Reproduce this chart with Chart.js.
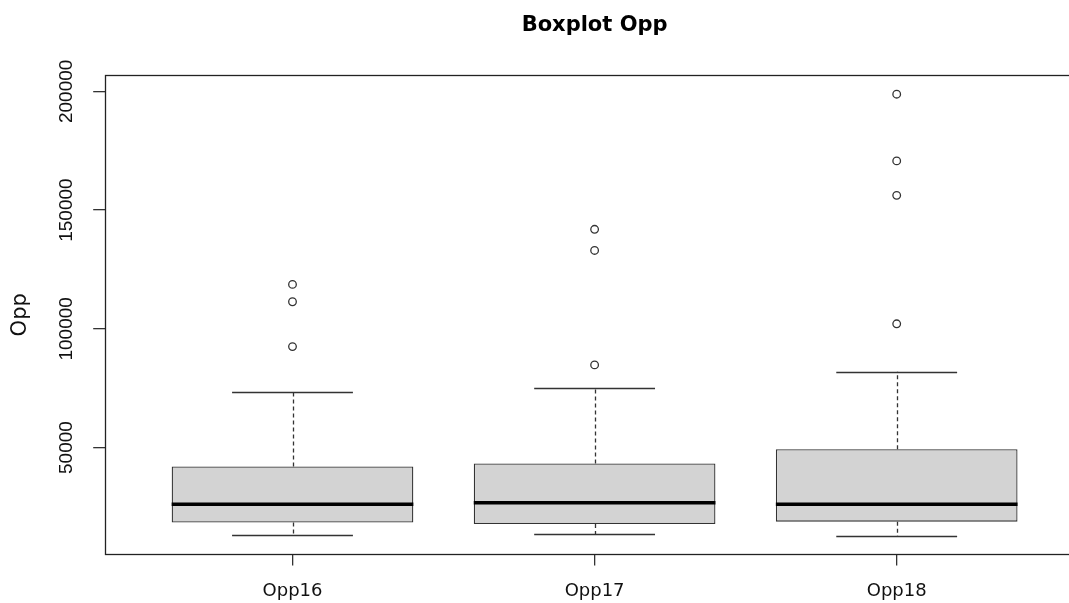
<!DOCTYPE html>
<html>
<head>
<meta charset="utf-8">
<script src="https://cdn.jsdelivr.net/npm/chart.js@4"></script>
<style>
  html, body { margin: 0; padding: 0; background: #fff; overflow: hidden; }
  #boxChart { display: block; }
</style>
</head>
<body>
<canvas id="boxChart" width="1100" height="603"></canvas>
<script>
// values
const categories = ['Opp16', 'Opp17', 'Opp18'];
const q1Values = [18400, 17800, 18800];
const medianValues = [26100, 26700, 26100];
const q3Values = [42000, 43300, 49300];
const whiskerLow = [13300, 13500, 12700];
const whiskerHigh = [73200, 74900, 81900];
const outlierValues = [
    [92500, 111400, 118700],
    [84800, 133000, 141900],
    [102100, 156200, 170700, 198800]
];
const yTicks = [50000, 100000, 150000, 200000];

const boxData = categories.map((c, i) => ({ x: i + 1, y: [q1Values[i], q3Values[i]] }));
const outlierPoints = [];
outlierValues.forEach((list, i) => list.forEach(v => outlierPoints.push({ x: i + 1, y: v })));

// whiskers, staples, medians, frame and rotated y labels (R style)
const boxExtras = {
    id: 'boxExtras',
    beforeDatasetsDraw(chart) {
        const ctx = chart.ctx, xs = chart.scales.x, ys = chart.scales.y;
        ctx.save();
        ctx.strokeStyle = '#333';
        ctx.lineWidth = 1.3;
        categories.forEach((c, i) => {
            const cx = Math.round(xs.getPixelForValue(i + 1)) + 0.5;
            ctx.setLineDash([4, 3]);
            ctx.beginPath();
            ctx.moveTo(cx, ys.getPixelForValue(q3Values[i]));
            ctx.lineTo(cx, ys.getPixelForValue(whiskerHigh[i]));
            ctx.moveTo(cx, ys.getPixelForValue(q1Values[i]));
            ctx.lineTo(cx, ys.getPixelForValue(whiskerLow[i]));
            ctx.stroke();
            ctx.setLineDash([]);
            ctx.beginPath();
            [whiskerHigh[i], whiskerLow[i]].forEach(v => {
                const y = Math.round(ys.getPixelForValue(v)) + 0.5;
                ctx.moveTo(xs.getPixelForValue(i + 0.8), y);
                ctx.lineTo(xs.getPixelForValue(i + 1.2), y);
            });
            ctx.stroke();
        });
        ctx.restore();
    },
    afterDatasetsDraw(chart) {
        const ctx = chart.ctx, xs = chart.scales.x, ys = chart.scales.y;
        ctx.save();
        ctx.strokeStyle = '#000';
        ctx.lineWidth = 3.5;
        categories.forEach((c, i) => {
            const y = ys.getPixelForValue(medianValues[i]);
            ctx.beginPath();
            ctx.moveTo(xs.getPixelForValue(i + 0.6), y);
            ctx.lineTo(xs.getPixelForValue(i + 1.4), y);
            ctx.stroke();
        });
        ctx.restore();
    },
    afterDraw(chart) {
        const ctx = chart.ctx, a = chart.chartArea, ys = chart.scales.y;
        ctx.save();
        ctx.strokeStyle = '#222';
        ctx.lineWidth = 1.3;
        ctx.strokeRect(Math.round(a.left) + 0.5, Math.round(a.top) + 0.5,
            Math.round(a.right - a.left), Math.round(a.bottom - a.top));
        ctx.fillStyle = '#111';
        ctx.font = '19px "Liberation Sans"';
        ctx.textAlign = 'center';
        ctx.textBaseline = 'middle';
        ys.ticks.forEach(t => {
            ctx.save();
            ctx.translate(67, ys.getPixelForValue(t.value));
            ctx.rotate(-Math.PI / 2);
            ctx.fillText(String(t.value), 0, 0);
            ctx.restore();
        });
        ctx.restore();
    }
};

new Chart(document.getElementById('boxChart'), {
    type: 'bar',
    data: {
        datasets: [{
            type: 'scatter',
            data: outlierPoints,
            pointRadius: 3.8,
            pointBackgroundColor: '#fff',
            pointBorderColor: '#333',
            pointBorderWidth: 1.3
        }, {
            type: 'bar',
            data: boxData,
            backgroundColor: '#d3d3d3',
            borderColor: '#333',
            borderWidth: 1.3,
            borderSkipped: false,
            barPercentage: 0.8,
            categoryPercentage: 1
        }]
    },
    options: {
        responsive: false,
        animation: false,
        layout: { padding: { left: 8, right: 16, top: 0, bottom: -14 } },
        plugins: {
            legend: { display: false },
            tooltip: { enabled: false },
            title: {
                display: true,
                text: 'Boxplot Opp',
                fullSize: false,
                color: '#000',
                font: { family: '"DejaVu Sans"', size: 21, weight: 'bold' },
                padding: { top: 13, bottom: 37 }
            }
        },
        scales: {
            x: {
                type: 'linear',
                min: 0.38,
                max: 3.62,
                offset: false,
                afterBuildTicks: scale => { scale.ticks = categories.map((c, i) => ({ value: i + 1 })); },
                border: { display: false },
                grid: { offset: false, drawOnChartArea: false, drawTicks: true, tickLength: 11, color: '#333', lineWidth: 1.3 },
                ticks: {
                    padding: 15,
                    color: '#111',
                    font: { family: '"DejaVu Sans"', size: 18 },
                    callback: value => categories[value - 1]
                }
            },
            y: {
                min: 5000,
                max: 206800,
                afterBuildTicks: scale => { scale.ticks = yTicks.map(v => ({ value: v })); },
                border: { display: false },
                grid: { drawOnChartArea: false, drawTicks: true, tickLength: 12, color: '#333', lineWidth: 1.3 },
                ticks: { display: false },
                title: {
                    display: true,
                    text: 'Opp',
                    color: '#111',
                    font: { family: '"DejaVu Sans"', size: 21 },
                    padding: { top: 0, bottom: 60 }
                }
            }
        }
    },
    plugins: [boxExtras]
});
</script>
</body>
</html>
